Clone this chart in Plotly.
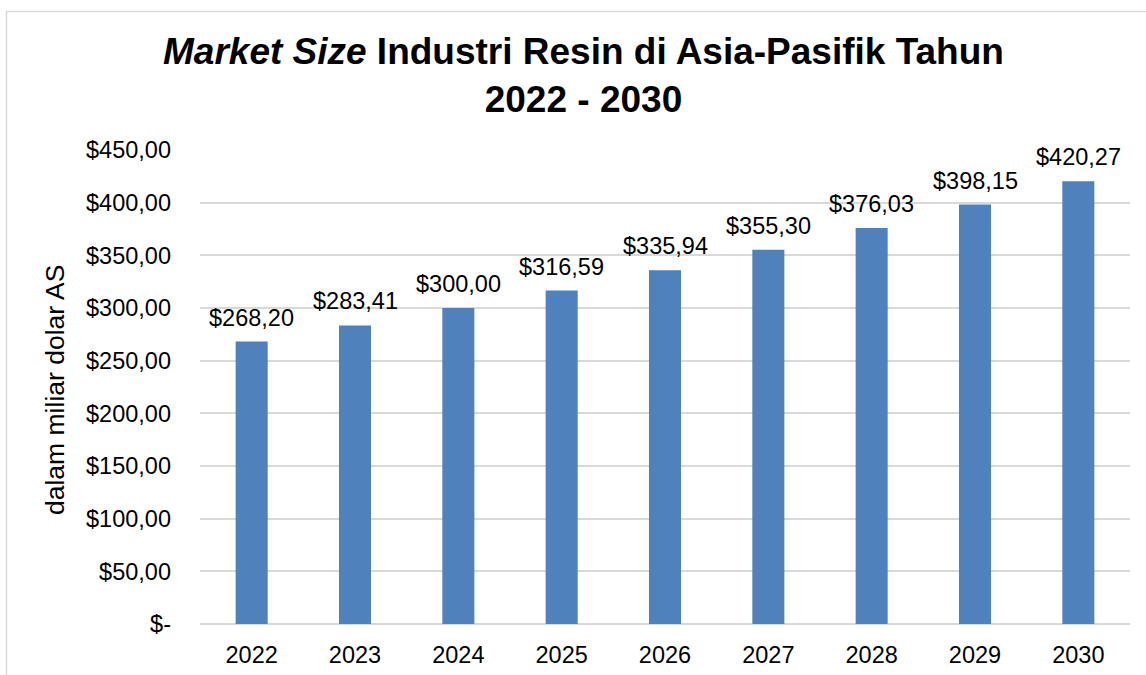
import plotly.graph_objects as go

years = ["2022", "2023", "2024", "2025", "2026", "2027", "2028", "2029", "2030"]
values = [268.20, 283.41, 300.00, 316.59, 335.94, 355.30, 376.03, 398.15, 420.27]
tick_vals = [0, 50, 100, 150, 200, 250, 300, 350, 400, 450]
tick_text = ["$-", "$50,00", "$100,00", "$150,00", "$200,00", "$250,00",
             "$300,00", "$350,00", "$400,00", "$450,00"]

def fmt(v):
    return "$" + f"{v:.2f}".replace(".", ",")

FONT = "Liberation Sans, Arial, sans-serif"
W, H = 1146, 675
L, R, T, B = 200, 16, 150, 51
pw, ph = W - L - R, H - T - B

def px_x(x):
    return (x - L) / pw

def px_y(y):
    return (H - B - y) / ph

idx = list(range(len(years)))

fig = go.Figure(go.Bar(
    x=idx, y=values, width=0.31,
    marker=dict(color="#4F81BD", line=dict(width=0)),
    hoverinfo="skip",
))

for i, v in zip(idx, values):
    fig.add_annotation(x=i, y=v, text=fmt(v), showarrow=False,
                       xanchor="center", yanchor="bottom",
                       yshift=9, font=dict(family=FONT, size=23.5, color="#000000"))

fig.add_annotation(xref="paper", yref="paper", x=px_x(55), y=px_y(390),
                   xanchor="center", yanchor="middle",
                   text="dalam miliar dolar AS", textangle=-90, showarrow=False,
                   font=dict(family=FONT, size=26.5, color="#000000"))

fig.add_annotation(xref="paper", yref="paper", x=px_x(583), y=px_y(75),
                   xanchor="center", yanchor="middle",
                   text="<b><i>Market Size</i> Industri Resin di Asia-Pasifik Tahun</b><br><b>2022 - 2030</b>",
                   showarrow=False, font=dict(family=FONT, size=37, color="#000000"))

# chart border (top and left visible)
fig.add_shape(type="line", xref="paper", yref="paper", x0=px_x(6), x1=px_x(1146),
              y0=px_y(11.5), y1=px_y(11.5), line=dict(color="#D9D9D9", width=1.5))
fig.add_shape(type="line", xref="paper", yref="paper", x0=px_x(6.5), x1=px_x(6.5),
              y0=px_y(11), y1=px_y(675), line=dict(color="#D9D9D9", width=1.5))

fig.update_layout(
    width=W, height=H, margin=dict(l=L, r=R, t=T, b=B, autoexpand=False),
    paper_bgcolor="white", plot_bgcolor="white",
    showlegend=False,
    font=dict(family=FONT, size=23.5, color="#000000"),
)
fig.update_xaxes(type="linear", range=[-0.5, len(years) - 0.5], automargin=False,
                 tickvals=idx, ticktext=years,
                 showgrid=False, showline=False, zeroline=False, ticks="",
                 ticklabelstandoff=14,
                 tickfont=dict(family=FONT, size=23.5, color="#000000"))
fig.update_yaxes(range=[0, 450], tickvals=tick_vals, ticktext=tick_text, automargin=False,
                 showgrid=True, gridcolor="#D9D9D9", gridwidth=1.5,
                 zeroline=True, zerolinecolor="#D9D9D9", zerolinewidth=1.5,
                 ticks="", ticklabelstandoff=28,
                 tickfont=dict(family=FONT, size=23.5, color="#000000"))

fig.write_html("out.html", config={"displayModeBar": False},
               post_script="document.body.style.margin='0';document.body.style.overflow='hidden';")
